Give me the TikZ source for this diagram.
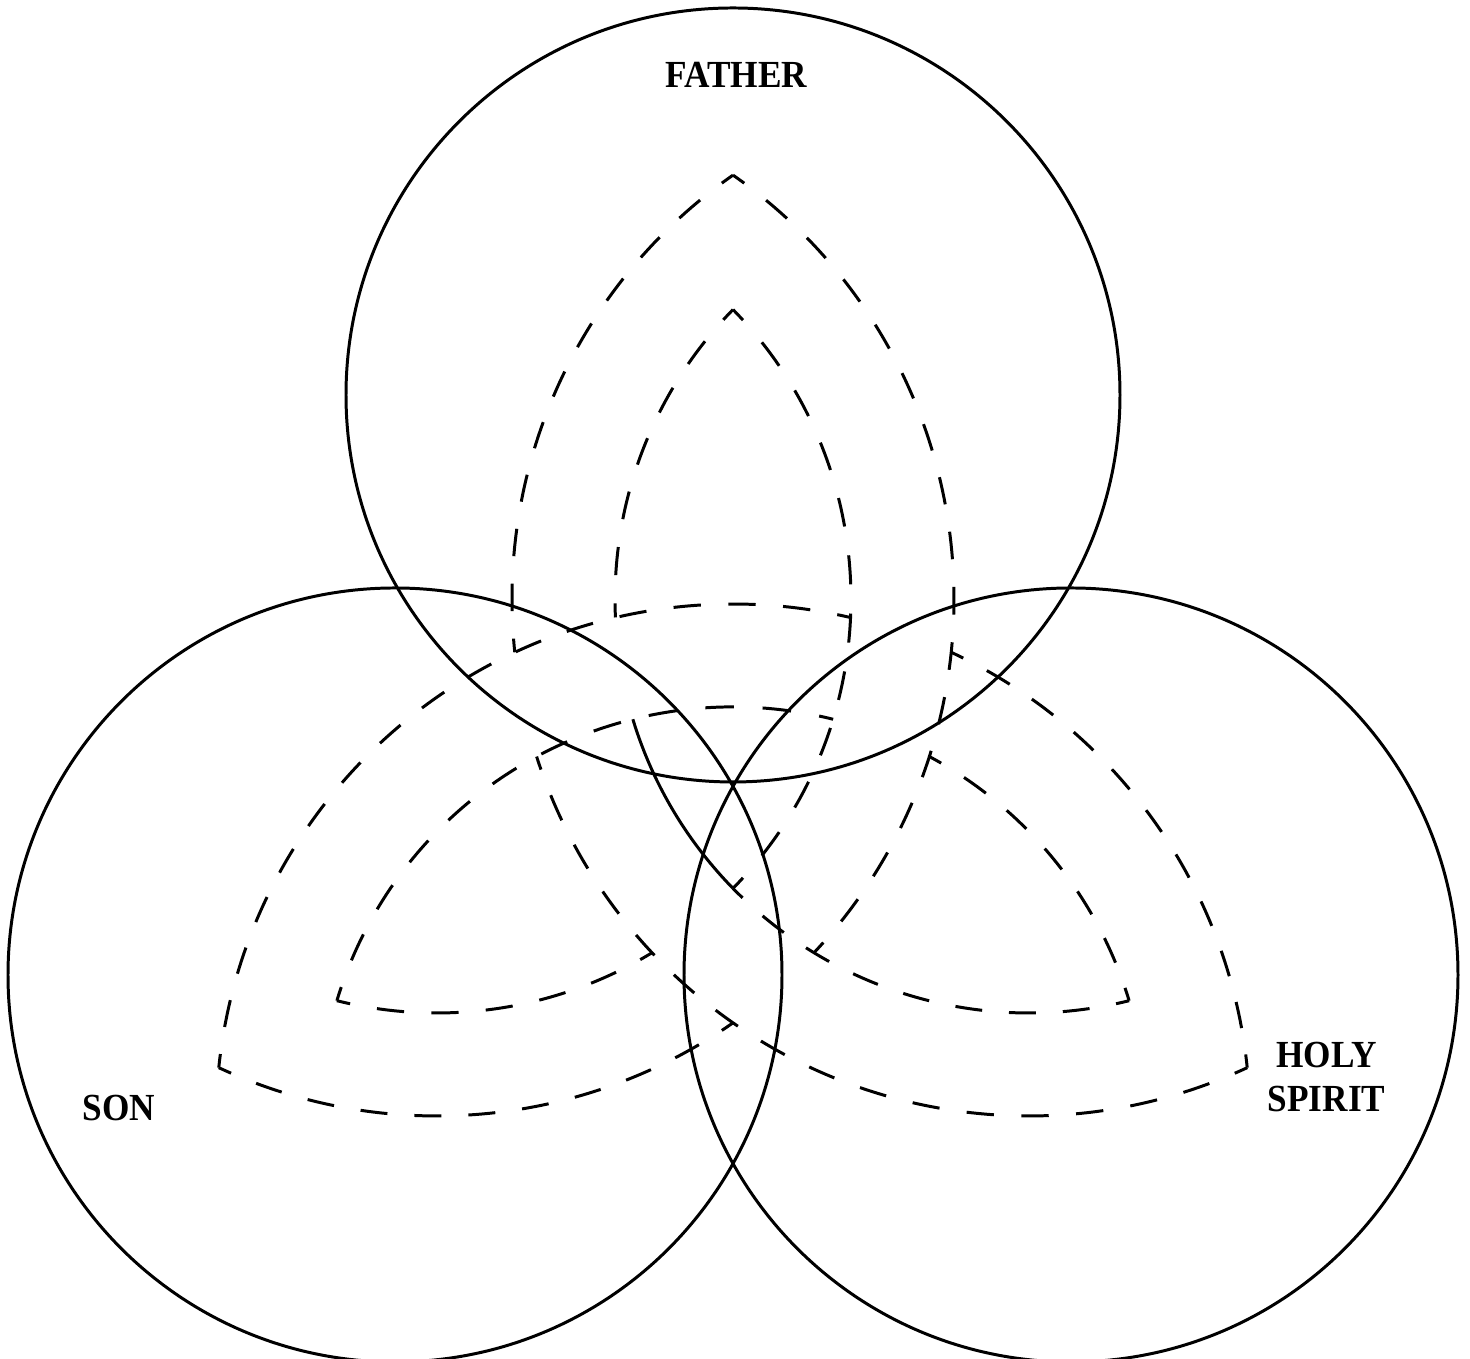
\documentclass[tikz,border=0pt]{standalone}
\usepackage{fontspec}
\newfontfamily\labelfont[FakeStretch=0.92]{Liberation Serif}

\tikzset{
  person/.style={line width=0.85pt},
  band/.style={line width=0.85pt},
  personname/.style={font=\labelfont\bfseries\fontsize{10.9}{12.5}\selectfont, align=center}
}

\begin{document}
\begin{tikzpicture}[x=0.1mm, y=0.1mm]
  \useasboundingbox (0,0) rectangle (1470,1359);

  % the three circles
  \draw[person] (733,964) circle [radius=387];
  \draw[person] (395,384) circle [radius=387];
  \draw[person] (1071,384) circle [radius=387];

  \node[personname] (father) at (736.5,1284) {FATHER};
  \node[personname] (son) at (119,251) {SON};
  \node[personname] (spirit) at (1326.5,282) {HOLY\\SPIRIT};

  % centres of the interlaced bands
  \coordinate (O1) at (733,238);
  \coordinate (O2) at (1029,760);
  \coordinate (O3) at (437,760);

  % outer and inner edges, broken where a band goes under
  \foreach \ctr/\rad/\sa/\ea in {O1/517/174.08/76.85, O1/517/65.03/5.92,
      O2/517/124.93/185.92, O2/517/197.75/294.97,
      O3/517/55.07/-43.18, O3/517/-55.07/-114.97,
      O1/414/163.11/76.0, O1/414/61.68/16.89,
      O2/414/135.64/182.56, O2/414/224.36/284.0,
      O3/414/44.36/-44.36, O3/414/-58.71/-104.0}{
    \pgfmathsetmacro\len{\rad*pi/180*abs(\ea-\sa)}
    \pgfmathsetmacro\hlf{0.28453*\len/max(1,round(\len/56))/2}
    \pgfmathsetmacro\qtr{\hlf/2}
    \draw[band, dash pattern=on \hlf pt off \hlf pt, dash phase=\qtr pt]
      (\ctr) ++(\sa:\rad) arc[start angle=\sa, end angle=\ea, radius=\rad];
  }

  % this piece is printed solid
  \draw[band] (O2) ++(196.89:414) arc[start angle=196.89, end angle=224.36, radius=414];
\end{tikzpicture}
\end{document}
